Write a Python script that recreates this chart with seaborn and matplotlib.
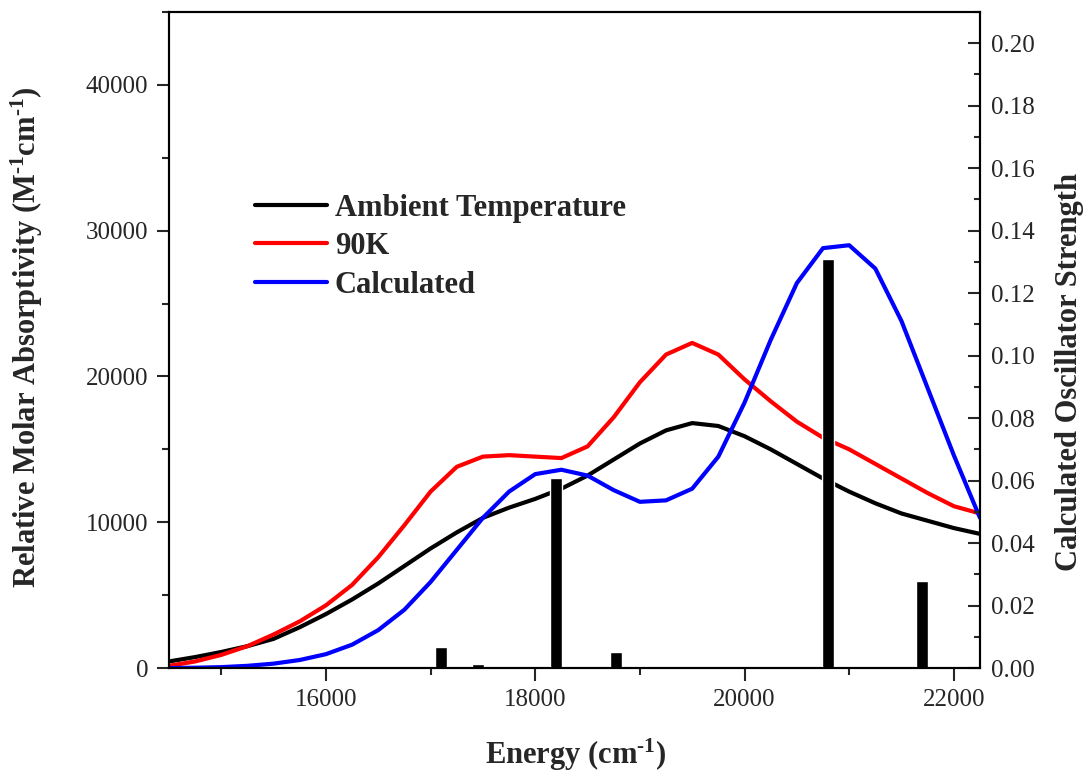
import matplotlib
matplotlib.use("Agg")
import matplotlib.pyplot as plt
from matplotlib.ticker import MultipleLocator, FormatStrFormatter
import seaborn as sns

# absorption spectra (cm-1 / M-1cm-1)
energy = [14500, 14750, 15000, 15250, 15500, 15750, 16000, 16250,
          16500, 16750, 17000, 17250, 17500, 17750, 18000, 18250,
          18500, 18750, 19000, 19250, 19500, 19750, 20000, 20250,
          20500, 20750, 21000, 21250, 21500, 21750, 22000, 22250]

ambient = [450, 750, 1100, 1500, 2000, 2800, 3700, 4700,
           5800, 7000, 8200, 9300, 10300, 11000, 11600, 12300,
           13200, 14300, 15400, 16300, 16800, 16600, 15900, 15000,
           14000, 13000, 12100, 11300, 10600, 10100, 9600, 9200]

k90 = [150, 450, 900, 1500, 2300, 3200, 4300, 5700,
       7600, 9800, 12100, 13800, 14500, 14600, 14500, 14400,
       15200, 17200, 19600, 21500, 22300, 21500, 19800, 18300,
       16900, 15800, 15000, 14000, 13000, 12000, 11100, 10600]

calculated = [0, 20, 60, 150, 300, 550, 950, 1600,
              2600, 4000, 5900, 8100, 10300, 12100, 13300, 13600,
              13200, 12200, 11400, 11500, 12300, 14500, 18200, 22500,
              26400, 28800, 29000, 27400, 23800, 19200, 14600, 10300]

# calculated transitions (oscillator strengths, right axis)
bar_energy = [17100, 17450, 18200, 18770, 20800, 21700]
bar_strength = [0.0066, 0.0013, 0.0607, 0.0052, 0.131, 0.0278]

sns.set_style("ticks")
plt.rcParams["font.family"] = ["Liberation Serif", "DejaVu Serif"]
plt.rcParams["mathtext.fontset"] = "custom"
plt.rcParams["mathtext.rm"] = "Liberation Serif:bold"
plt.rcParams["mathtext.default"] = "rm"

fig = plt.figure(figsize=(10.88, 7.72), dpi=100)
ax = fig.add_axes([0.1553, 0.1347, 0.7454, 0.8498])
ax2 = ax.twinx()

sns.lineplot(x=energy, y=ambient, ax=ax, color="black", lw=3, label="Ambient Temperature")
sns.lineplot(x=energy, y=k90, ax=ax, color="#ff0000", lw=3, label="90K")
sns.lineplot(x=energy, y=calculated, ax=ax, color="#0000ff", lw=3, label="Calculated")

ax2.bar(bar_energy, bar_strength, width=115, color="black")

ax.set_xlim(14500, 22250)
ax.set_ylim(0, 45000)
ax2.set_ylim(0, 0.21)

ax.xaxis.set_major_locator(MultipleLocator(2000))
ax.xaxis.set_minor_locator(MultipleLocator(1000))
ax.yaxis.set_major_locator(MultipleLocator(10000))
ax.yaxis.set_minor_locator(MultipleLocator(5000))
ax2.yaxis.set_major_locator(MultipleLocator(0.02))
ax2.yaxis.set_minor_locator(MultipleLocator(0.01))
ax2.yaxis.set_major_formatter(FormatStrFormatter("%.2f"))

ax.tick_params(which="major", direction="out", length=9, width=1.5, labelsize=18, pad=6)
ax.tick_params(which="minor", direction="out", length=4.8, width=1.5)
ax2.tick_params(which="major", direction="in", length=9, width=1.5, labelsize=18, pad=8)
ax2.tick_params(which="minor", direction="in", length=4.5, width=1.5)

for a in (ax, ax2):
    for s in a.spines.values():
        s.set_linewidth(1.5)
        s.set_color("black")

ax.set_xlabel(r"Energy (cm$^{\text{-1}}$)", fontsize=22, fontweight="bold")
ax.set_ylabel(r"Relative Molar Absorptivity (M$^{\text{-1}}$cm$^{\text{-1}}$)",
              fontsize=22, fontweight="bold")
ax2.set_ylabel("Calculated Oscillator Strength", fontsize=22, fontweight="bold")
ax.xaxis.set_label_coords(0.502, -0.105)
ax.yaxis.set_label_coords(-0.153, 0.505)
ax2.yaxis.set_label_coords(1.092, 0.451)

ax.legend(loc="upper left", bbox_to_anchor=(0.106, 0.723), frameon=False,
          prop={"weight": "bold", "size": 22}, handlelength=2.35,
          handletextpad=0.26, labelspacing=0.31, borderpad=0, borderaxespad=0)

fig.savefig("out.png", dpi=100)
